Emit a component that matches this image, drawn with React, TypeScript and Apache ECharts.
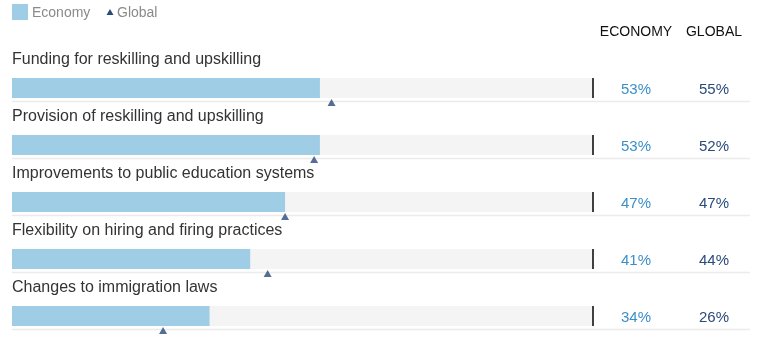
import React, { useEffect, useRef } from "react";
import * as echarts from "echarts";

const categories = [
  "Funding for reskilling and upskilling",
  "Provision of reskilling and upskilling",
  "Improvements to public education systems",
  "Flexibility on hiring and firing practices",
  "Changes to immigration laws",
];
const economyValues = [53, 53, 47, 41, 34];
const globalValues = [55, 52, 47, 44, 26];
const maxValues = [100, 100, 100, 100, 100];
const headers = ["ECONOMY", "GLOBAL"];
const legendLabels = ["Economy", "Global"];

const FONT = "'Liberation Sans', Arial, Helvetica, sans-serif";
const ECON_COLOR = "#a0cde6";
const GLOBAL_COLOR = "#2b4a7a";
const ECON_TEXT = "#3b8fc8";

const GRID_LEFT = 12;
const GRID_WIDTH = 581;
const GRID_TOP = 59.5;
const BAND = 57;

export default function App() {
  const ref = useRef<HTMLDivElement>(null);
  useEffect(() => {
    if (!ref.current) return;
    const chart = echarts.init(ref.current, null, { renderer: "svg" });
    const separators = categories.map((_, i) => ({
      type: "line",
      shape: { x1: GRID_LEFT, y1: GRID_TOP + BAND / 2 + 13.5 + i * BAND, x2: 750, y2: GRID_TOP + BAND / 2 + 13.5 + i * BAND },
      style: { stroke: "#ebebeb", lineWidth: 1.5 },
      z: 0,
    }));
    chart.setOption({
      animation: false,
      textStyle: { fontFamily: FONT },
      grid: { left: GRID_LEFT, top: GRID_TOP, width: GRID_WIDTH, height: BAND * categories.length },
      xAxis: { type: "value", min: 0, max: 100, show: false },
      yAxis: [
        {
          type: "category",
          data: categories,
          inverse: true,
          show: false,
        },
        {
          type: "category",
          data: categories,
          inverse: true,
          position: "right",
          axisLine: { show: false },
          axisTick: { show: false },
          splitLine: { show: false },
          axisLabel: {
            formatter: (_v: string, i: number) => economyValues[i] + "%",
            color: ECON_TEXT,
            fontSize: 15,
            fontFamily: FONT,
            align: "center",
            margin: 43,
            padding: [0, 0, 4, 0],
          },
        },
        {
          type: "category",
          data: categories,
          inverse: true,
          position: "right",
          axisLine: { show: false },
          axisTick: { show: false },
          splitLine: { show: false },
          axisLabel: {
            formatter: (_v: string, i: number) => globalValues[i] + "%",
            color: GLOBAL_COLOR,
            fontSize: 15,
            fontFamily: FONT,
            align: "center",
            margin: 121,
            padding: [0, 0, 4, 0],
          },
        },
      ],
      graphic: [
        ...separators,
        { type: "rect", shape: { x: 12, y: 4, width: 16, height: 16 }, style: { fill: ECON_COLOR } },
        { type: "text", x: 32, y: 12, style: { text: legendLabels[0], fill: "#8a8a8a", fontSize: 14, fontFamily: FONT, verticalAlign: "middle" } },
        { type: "polygon", shape: { points: [[110, 9], [113.5, 15], [106.5, 15]] }, style: { fill: GLOBAL_COLOR } },
        { type: "text", x: 117, y: 12, style: { text: legendLabels[1], fill: "#8a8a8a", fontSize: 14, fontFamily: FONT, verticalAlign: "middle" } },
        { type: "text", x: 636, y: 31, style: { text: headers[0], fill: "#111", fontSize: 14, fontFamily: FONT, align: "center", verticalAlign: "middle" } },
        { type: "text", x: 714, y: 31, style: { text: headers[1], fill: "#111", fontSize: 14, fontFamily: FONT, align: "center", verticalAlign: "middle" } },
      ],
      series: [
        {
          type: "bar",
          data: economyValues,
          barWidth: 20,
          itemStyle: { color: ECON_COLOR },
          showBackground: true,
          backgroundStyle: { color: "#f4f4f4" },
          label: {
            show: true,
            position: [0, -20],
            formatter: "{b}",
            color: "#333",
            fontSize: 16,
            fontFamily: FONT,
            verticalAlign: "middle",
          },
          z: 2,
        },
        {
          type: "scatter",
          data: maxValues,
          symbol: "rect",
          symbolSize: [2, 20],
          itemStyle: { color: "#111" },
          z: 3,
        },
        {
          type: "scatter",
          data: globalValues,
          symbol: "triangle",
          symbolSize: [8, 7],
          symbolOffset: [0, 14.5],
          itemStyle: { color: GLOBAL_COLOR },
          z: 4,
        },
      ],
    });
    return () => chart.dispose();
  }, []);
  return <div ref={ref} style={{ position: "fixed", left: 0, top: 0, width: 758, height: 400 }} />;
}
